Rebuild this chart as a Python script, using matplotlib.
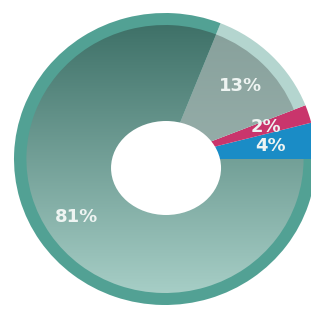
import numpy as np
import matplotlib
matplotlib.use("Agg")
from matplotlib import pyplot as plt
from matplotlib.patches import Wedge, Ellipse
from matplotlib.colors import LinearSegmentedColormap

# slice data, counterclockwise from 3 o'clock
labels = ["4%", "2%", "13%", "81%"]
values = [4, 2, 13, 81]
rim_colors = ["#1a8cc6", "#c9356c", "#b4d5cf", "#52a194"]
# vertical gradients (top -> bottom) for the shaded slices, None = flat
shades = [None, None, ("#869f9a", "#a6bdb9"), ("#3a6d64", "#abd2ca")]

W, H = 311, 312
cx, cy = 162, H - 159
r_out = 146
r_in = 134
sx = 151 / 146          # donut is a bit wider than tall
px0 = 165               # pixel column of the centre

fig = plt.figure(figsize=(W / 100, H / 100), dpi=100)
ax = fig.add_axes([0, 0, 1, 1])

wedges, texts, autotexts = ax.pie(
    values, colors=rim_colors, startangle=0, counterclock=True,
    radius=r_out, center=(cx, cy), wedgeprops=dict(linewidth=0),
    autopct=lambda p: f"{p:.0f}%", pctdistance=103 / r_out,
    textprops=dict(color="#eef4f2", fontsize=13, fontweight="bold"))

for w, shade in zip(wedges, shades):
    if shade is None:
        continue
    cmap = LinearSegmentedColormap.from_list("g", [shade[0], shade[1]])
    grad = np.linspace(0, 1, 256).reshape(-1, 1)
    im = ax.imshow(grad, cmap=cmap, aspect="auto",
                   extent=(cx - r_out, cx + r_out, cy - r_out, cy + r_out),
                   origin="upper", zorder=1.5)
    clip = Wedge((cx, cy), r_in, w.theta1, w.theta2, transform=ax.transData)
    im.set_clip_path(clip)

for t in autotexts:
    t.set_zorder(5)

hole = Ellipse((cx + 1, H - 168), 110 / sx, 94, facecolor="white",
               edgecolor="none", zorder=4)
ax.add_patch(hole)

x0 = cx - px0 / sx
ax.set_xlim(x0, x0 + W / sx)
ax.set_ylim(0, H)
ax.set_aspect("auto")
ax.axis("off")

fig.savefig("out.png", dpi=100, facecolor="white")
